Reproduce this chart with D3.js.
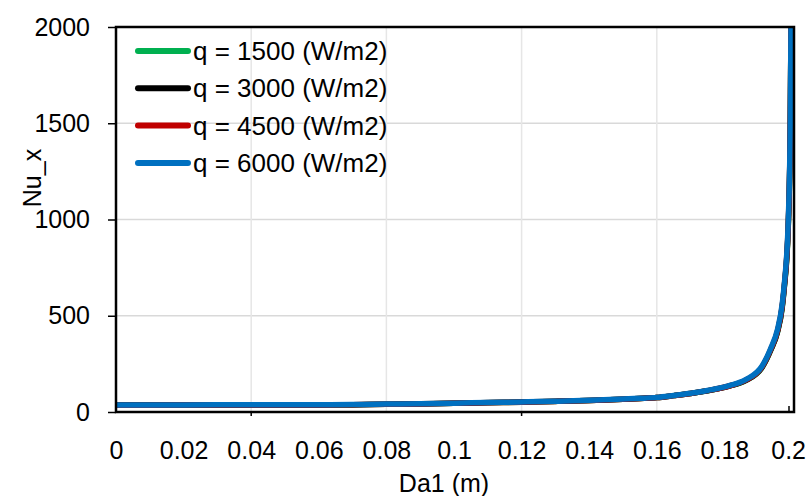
<!DOCTYPE html>
<html>
<head>
<meta charset="utf-8">
<script src="https://cdn.jsdelivr.net/npm/d3@7"></script>
<style>
  html, body { margin: 0; padding: 0; background: #fff; }
  svg { display: block; }
  text { font-family: "Liberation Sans", Arial, sans-serif; fill: #000; }
</style>
</head>
<body>
<svg id="chart" width="807" height="496"></svg>
<script>
// Local Nusselt number along the channel for four heat fluxes
const da1 = [0, 0.02, 0.04, 0.06, 0.07, 0.08, 0.09, 0.1, 0.11, 0.12, 0.13, 0.14, 0.15, 0.155,
  0.16, 0.165, 0.17, 0.175, 0.1814, 0.1863, 0.1912, 0.1937, 0.1957, 0.1971, 0.1977, 0.1989, 0.1995, 0.1997];

const nuQ1500 = [36, 36, 36, 35, 37, 40, 42, 45, 48, 51, 55, 60, 66, 70, 75, 85, 96, 110, 134, 163, 232, 320, 414, 540, 640, 960, 1480, 2000];
const nuQ3000 = [36, 37, 37, 37, 38, 40, 43, 45, 49, 52, 56, 60, 66, 70, 75, 85, 96, 110, 134, 164, 234, 322, 416, 545, 645, 970, 1490, 2000];
const nuQ4500 = [35, 36, 37, 36, 38, 40, 42, 45, 48, 51, 55, 60, 66, 70, 75, 85, 96, 111, 135, 165, 236, 325, 420, 550, 650, 980, 1500, 2000];
const nuQ6000 = [37, 37, 38, 38, 39, 41, 43, 46, 49, 52, 56, 61, 67, 71, 76, 86, 97, 112, 137, 168, 240, 330, 428, 560, 660, 997, 1517, 2000];

const seriesNames = ["q = 1500 (W/m2)", "q = 3000 (W/m2)", "q = 4500 (W/m2)", "q = 6000 (W/m2)"];
const seriesColors = ["#00b050", "#000000", "#c00000", "#0070c0"];
const seriesValues = [nuQ1500, nuQ3000, nuQ4500, nuQ6000];

const xTicks = [0, 0.02, 0.04, 0.06, 0.08, 0.1, 0.12, 0.14, 0.16, 0.18, 0.2];
const xGrid = [0.04, 0.08, 0.12, 0.16];
const yTicks = [0, 500, 1000, 1500, 2000];

const svg = d3.select("#chart");
const plotLeft = 116, plotRight = 794, plotTop = 27, plotBottom = 412;
const W = 807;

const x = d3.scaleLinear().domain([0, 0.2]).range([plotLeft, 792]);
const y = d3.scaleLinear().domain([0, 2000]).range([plotBottom, plotTop]);

// gridlines
svg.append("g").selectAll("line").data(yTicks.filter(d => d > 0 && d < 2000)).join("line")
  .attr("x1", plotLeft).attr("x2", plotRight)
  .attr("y1", d => y(d)).attr("y2", d => y(d))
  .attr("stroke", "#d9d9d9").attr("stroke-width", 1.5);
svg.append("g").selectAll("line").data(xGrid).join("line")
  .attr("x1", d => x(d)).attr("x2", d => x(d))
  .attr("y1", plotTop).attr("y2", plotBottom)
  .attr("stroke", "#e6e6e6").attr("stroke-width", 1.5);

// y axis ticks and labels
const yAxis = d3.axisLeft(y).tickValues(yTicks).tickSize(8).tickPadding(18).tickFormat(d3.format("d"));
const gy = svg.append("g").attr("transform", `translate(${plotLeft},0)`).call(yAxis);
gy.select(".domain").remove();
gy.selectAll(".tick line").attr("stroke", "#000").attr("stroke-width", 1.5);
gy.selectAll(".tick text").attr("font-size", 25).attr("font-family", "Liberation Sans, Arial, sans-serif").attr("fill", "#000");

// x axis labels
const xAxis = d3.axisBottom(x).tickValues(xTicks).tickSize(0).tickPadding(29).tickFormat(d => String(d));
const gx = svg.append("g").attr("transform", `translate(0,${plotBottom})`).call(xAxis);
gx.select(".domain").remove();
gx.selectAll(".tick text").attr("font-size", 25).attr("font-family", "Liberation Sans, Arial, sans-serif").attr("fill", "#000");
// keep the last label inside the canvas
gx.selectAll(".tick text").each(function () {
  const box = this.getBBox();
  const tx = +this.parentNode.getAttribute("transform").match(/translate\(([^,]+)/)[1];
  const overflow = tx + box.x + box.width - (W - 1);
  if (overflow > 0) d3.select(this).attr("dx", -overflow);
});

// small marks on the category axis
svg.append("g").selectAll("line").data([0.04, 0.12]).join("line")
  .attr("x1", d => x(d)).attr("x2", d => x(d))
  .attr("y1", plotBottom).attr("y2", plotBottom + 4)
  .attr("stroke", "#000").attr("stroke-width", 1.5);
svg.append("line")
  .attr("x1", x(0.2) - 3).attr("x2", x(0.2) - 3)
  .attr("y1", plotBottom).attr("y2", plotBottom - 6)
  .attr("stroke", "#000").attr("stroke-width", 1.5);

// curves
svg.append("clipPath").attr("id", "plotClip")
  .append("rect").attr("x", plotLeft).attr("y", plotTop - 1).attr("width", plotRight - plotLeft).attr("height", plotBottom - plotTop + 2);

const line = d3.line().x(d => x(d[0])).y(d => y(d[1])).curve(d3.curveMonotoneX);
const gLines = svg.append("g").attr("clip-path", "url(#plotClip)");
seriesValues.forEach((vals, i) => {
  gLines.append("path")
    .datum(da1.map((d, j) => [d, vals[j]]))
    .attr("d", line)
    .attr("fill", "none")
    .attr("stroke", seriesColors[i])
    .attr("stroke-width", 5.5)
    .attr("stroke-linejoin", "round")
    .attr("stroke-linecap", "round");
});

// plot frame
svg.append("rect")
  .attr("x", plotLeft).attr("y", plotTop).attr("width", plotRight - plotLeft).attr("height", plotBottom - plotTop)
  .attr("fill", "none").attr("stroke", "#000").attr("stroke-width", 2.5);

// legend
const legend = svg.append("g");
seriesNames.forEach((name, i) => {
  const cy = 51 + i * 37.3;
  legend.append("line")
    .attr("x1", 138).attr("x2", 188).attr("y1", cy).attr("y2", cy)
    .attr("stroke", seriesColors[i]).attr("stroke-width", 6).attr("stroke-linecap", "round");
  legend.append("text")
    .attr("x", 193).attr("y", cy + 9)
    .attr("font-size", 26)
    .text(name);
});

// axis titles
svg.append("text")
  .attr("x", 444).attr("y", 492)
  .attr("text-anchor", "middle").attr("font-size", 25)
  .text("Da1 (m)");
svg.append("text")
  .attr("transform", "translate(41,178) rotate(-90)")
  .attr("text-anchor", "middle").attr("font-size", 25)
  .text("Nu_x");
</script>
</body>
</html>
